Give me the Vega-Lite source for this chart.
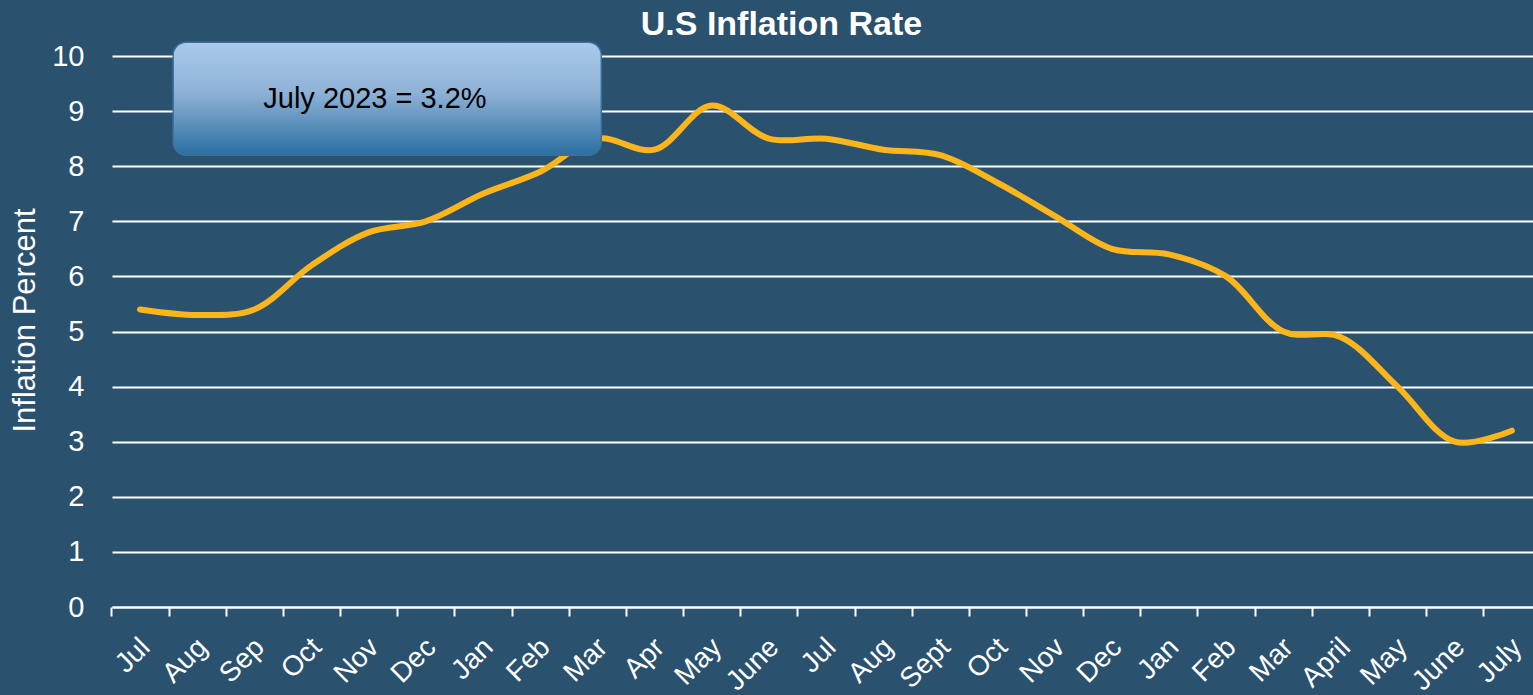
{
  "$schema": "https://vega.github.io/schema/vega-lite/v6.json",
  "autosize": "none",
  "width": 1421,
  "height": 551,
  "padding": {"left": 112, "top": 56, "right": 0, "bottom": 88},
  "background": "#2A516E",
  "title": {
    "text": "U.S Inflation Rate",
    "anchor": "middle",
    "frame": "group",
    "dx": -41,
    "offset": -1,
    "font": "Liberation Sans",
    "fontSize": 34,
    "fontWeight": "bold",
    "color": "white"
  },
  "config": {
    "view": {"stroke": null},
    "font": "Liberation Sans"
  },
  "datasets": {
    "rates": [
      {"i": 0, "month": "Jul", "rate": 5.4},
      {"i": 1, "month": "Aug", "rate": 5.3},
      {"i": 2, "month": "Sep", "rate": 5.4},
      {"i": 3, "month": "Oct", "rate": 6.2},
      {"i": 4, "month": "Nov", "rate": 6.8},
      {"i": 5, "month": "Dec", "rate": 7.0},
      {"i": 6, "month": "Jan", "rate": 7.5},
      {"i": 7, "month": "Feb", "rate": 7.9},
      {"i": 8, "month": "Mar", "rate": 8.5},
      {"i": 9, "month": "Apr", "rate": 8.3},
      {"i": 10, "month": "May", "rate": 9.1},
      {"i": 11, "month": "June", "rate": 8.5},
      {"i": 12, "month": "Jul", "rate": 8.5},
      {"i": 13, "month": "Aug", "rate": 8.3},
      {"i": 14, "month": "Sept", "rate": 8.2},
      {"i": 15, "month": "Oct", "rate": 7.7},
      {"i": 16, "month": "Nov", "rate": 7.1},
      {"i": 17, "month": "Dec", "rate": 6.5},
      {"i": 18, "month": "Jan", "rate": 6.4},
      {"i": 19, "month": "Feb", "rate": 6.0},
      {"i": 20, "month": "Mar", "rate": 5.0},
      {"i": 21, "month": "April", "rate": 4.9},
      {"i": 22, "month": "May", "rate": 4.0},
      {"i": 23, "month": "June", "rate": 3.0},
      {"i": 24, "month": "July", "rate": 3.2}
    ],
    "note": [
      {"x1": 0.58, "x2": 8.07, "y1": 8.2, "y2": 10.25, "xm": 4.11, "ym": 9.22, "label": "July 2023 = 3.2%"}
    ]
  },
  "layer": [
    {
      "data": {"name": "rates"},
      "mark": {
        "type": "line",
        "interpolate": "catmull-rom",
        "color": "#FDB51C",
        "strokeWidth": 6,
        "strokeCap": "round",
        "strokeJoin": "round"
      },
      "encoding": {
        "x": {
          "field": "i",
          "type": "quantitative",
          "scale": {"domain": [-0.49, 24.37], "nice": false, "zero": false},
          "axis": {
            "title": null,
            "values": [0,1,2,3,4,5,6,7,8,9,10,11,12,13,14,15,16,17,18,19,20,21,22,23,24],
            "labelExpr": "['Jul','Aug','Sep','Oct','Nov','Dec','Jan','Feb','Mar','Apr','May','June','Jul','Aug','Sept','Oct','Nov','Dec','Jan','Feb','Mar','April','May','June','July'][datum.value]",
            "grid": false,
            "domainColor": "white",
            "domainWidth": 2,
            "tickColor": "white",
            "tickWidth": 2,
            "tickSize": 9,
            "tickOffset": -28.58,
            "labelOffset": 24,
            "labelAngle": -45,
            "labelAlign": "right",
            "labelBaseline": "top",
            "labelPadding": 17,
            "labelFontSize": 28,
            "labelColor": "white",
            "labelFont": "Liberation Sans",
            "labelOverlap": false,
            "labelBound": false,
            "labelFlush": false
          }
        },
        "y": {
          "field": "rate",
          "type": "quantitative",
          "scale": {"domain": [0, 10], "nice": false},
          "axis": {
            "title": "Inflation Percent",
            "titleFontSize": 31,
            "titleFontWeight": "normal",
            "titleColor": "white",
            "titleFont": "Liberation Sans",
            "titleX": -87,
            "titleY": 264,
            "titleBaseline": "middle",
            "titleAnchor": "middle",
            "values": [0,1,2,3,4,5,6,7,8,9,10],
            "domain": false,
            "ticks": false,
            "grid": true,
            "gridColor": "white",
            "gridWidth": 2,
            "gridOpacity": 1,
            "labelFontSize": 29,
            "labelColor": "white",
            "labelFont": "Liberation Sans",
            "labelPadding": 28
          }
        }
      }
    },
    {
      "data": {"name": "note"},
      "mark": {
        "type": "rect",
        "cornerRadius": 13,
        "stroke": "#3B729A",
        "strokeWidth": 1.5,
        "fill": {
          "gradient": "linear",
          "x1": 0, "y1": 0, "x2": 0, "y2": 1,
          "stops": [
            {"offset": 0, "color": "#AACAEC"},
            {"offset": 0.45, "color": "#8EB1D6"},
            {"offset": 1, "color": "#2B6FA1"}
          ]
        }
      },
      "encoding": {
        "x": {"field": "x1", "type": "quantitative"},
        "x2": {"field": "x2"},
        "y": {"field": "y1", "type": "quantitative"},
        "y2": {"field": "y2"}
      }
    },
    {
      "data": {"name": "note"},
      "mark": {
        "type": "text",
        "font": "Liberation Sans",
        "fontSize": 29,
        "color": "black",
        "align": "center",
        "baseline": "middle"
      },
      "encoding": {
        "x": {"field": "xm", "type": "quantitative"},
        "y": {"field": "ym", "type": "quantitative"},
        "text": {"field": "label"}
      }
    }
  ]
}
